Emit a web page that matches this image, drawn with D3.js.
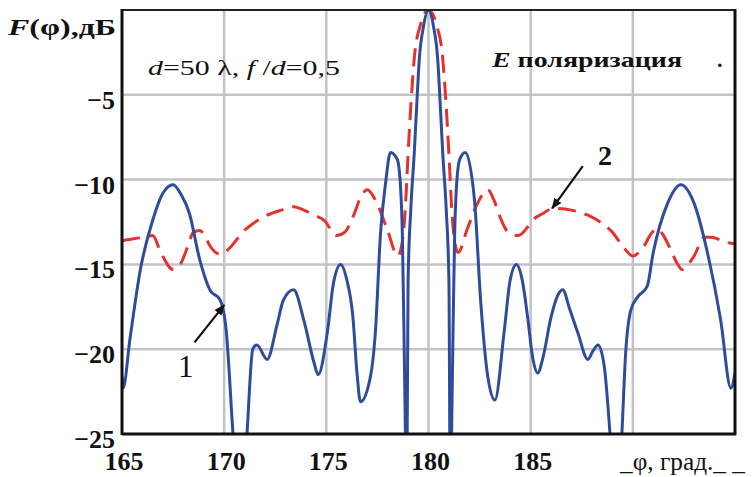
<!DOCTYPE html>
<html>
<head>
<meta charset="utf-8">
<script src="https://cdn.jsdelivr.net/npm/d3@7"></script>
<style>
body { margin: 0; background: #fff; }
svg { display: block; }
text { font-family: "Liberation Serif", "DejaVu Serif", serif; fill: #111; }
</style>
</head>
<body>
<svg width="753" height="477"></svg>
<script>
// curve 1 (solid blue)
var phi1 = [165.0,165.05,165.4,165.9,166.5,167.0,167.5,167.9,168.3,168.8,169.3,169.8,170.1,170.45,170.8,171.1,171.4,171.6,172.1,172.6,172.9,173.4,173.9,174.4,174.6,175.05,175.35,175.7,176.0,176.3,176.5,176.67,177.16,177.4,177.65,177.9,178.14,178.47,178.63,178.72,178.8,178.87,178.93,179.0,179.14,179.3,179.45,179.55,179.75,180.0,
  180.25,180.45,180.55,180.7,180.86,181.0,181.07,181.13,181.2,181.28,181.37,181.53,181.8,182.25,182.55,182.9,183.25,183.7,184.0,184.3,184.6,184.85,185.1,185.35,185.6,186.0,186.3,186.57,186.9,187.3,187.8,188.05,188.3,188.6,188.9,189.15,189.45,189.65,189.9,190.25,190.7,191.0,191.7,192.35,193.0,193.65,194.3,194.8,195.0];
var db1 = [-21.6,-22.3,-19.3,-15.3,-12.4,-10.8,-10.3,-10.9,-12.0,-14.7,-16.5,-17.1,-18.9,-25.3,-30,-25.3,-20.0,-19.75,-20.6,-18.5,-17.1,-16.5,-18.3,-20.8,-21.5,-19.0,-16.1,-15.0,-15.9,-18.1,-21.4,-23.1,-21.6,-19.0,-13.2,-10.2,-8.4,-8.8,-10.4,-13.2,-19.0,-25,-30,-16,-11.6,-8.5,-5,-2.9,-1.0,0,
  -1.0,-2.9,-5.0,-8.5,-11.6,-16,-30,-25,-19.0,-13.2,-10.4,-8.8,-8.4,-11.2,-17.1,-21.6,-23.0,-19.0,-15.9,-15.0,-16.0,-18.1,-20.5,-21.4,-20.5,-18.1,-16.9,-16.5,-17.6,-19.0,-20.6,-20.1,-19.75,-21.0,-25.3,-30,-25.3,-20.2,-17.7,-16.9,-16.3,-14.3,-11.4,-10.3,-11.4,-14.3,-18.3,-22.3,-21.4];

// curve 2 (dashed red)
var phi2 = [165.0,165.5,166.0,166.5,166.9,167.5,167.85,168.2,168.5,168.8,169.0,169.3,169.8,170.3,170.9,171.4,172.1,172.8,173.4,173.9,174.4,174.9,175.5,175.9,176.3,176.7,177.0,177.4,177.97,178.5,178.7,178.87,179.0,179.17,179.3,179.6,180.0,
  180.4,180.7,180.83,181.0,181.13,181.3,181.45,181.9,182.4,182.9,183.2,183.5,183.9,184.4,184.85,185.1,185.6,186.1,187.0,187.8,188.4,189.0,189.55,190.0,190.5,190.95,191.2,191.5,191.8,192.2,192.4,193.0,193.5,193.8,194.6,195.0];
var db2 = [-13.6,-13.5,-13.4,-13.3,-14.3,-15.3,-15.0,-14.0,-13.1,-13.0,-13.2,-13.9,-14.4,-14.0,-13.1,-12.6,-12.1,-11.8,-11.6,-11.8,-12.1,-12.4,-13.3,-13.1,-12.2,-11.0,-10.6,-11.2,-12.9,-14.5,-13.8,-11.6,-8.5,-5.0,-2.9,-0.9,0,
  -0.9,-2.9,-5.0,-8.5,-11.6,-13.8,-14.3,-12.9,-11.4,-10.6,-11.2,-12.2,-13.1,-13.3,-12.8,-12.4,-12.0,-11.7,-11.8,-12.1,-12.5,-13.1,-14.0,-14.5,-14.0,-13.1,-12.9,-13.3,-14.0,-15.0,-15.3,-14.5,-13.4,-13.4,-13.7,-13.8];

var xTicks = [165, 170, 175, 180, 185];
var xGrid = [170, 175, 180, 185, 190];
var yTicks = [-5, -10, -15, -20, -25];
var yGrid = [-5, -10, -15, -20];

var svg = d3.select("svg");
// plot box (not "top": window.top is read-only)
var pl = 122, pt = 10, pr = 735, pb = 434;

var x = d3.scaleLinear().domain([165, 195]).range([pl, pr]);
var y = d3.scaleLinear().domain([-25, 0]).range([pb, pt]);

// clip so the deep nulls stop at the frame
svg.append("clipPath").attr("id", "plot")
  .append("rect").attr("x", pl).attr("y", pt)
  .attr("width", pr - pl).attr("height", pb - pt);

// grid
svg.append("g").selectAll("line").data(xGrid).enter().append("line")
  .attr("x1", d => x(d)).attr("x2", d => x(d))
  .attr("y1", pt).attr("y2", pb)
  .attr("stroke", "#c3c3c7").attr("stroke-width", 2.5);
svg.append("g").selectAll("line").data(yGrid).enter().append("line")
  .attr("x1", pl).attr("x2", pr)
  .attr("y1", d => y(d)).attr("y2", d => y(d))
  .attr("stroke", "#c3c3c7").attr("stroke-width", 2.5);

var line = d3.line().curve(d3.curveMonotoneX)
  .x(d => x(d[0])).y(d => y(d[1]));

var g = svg.append("g").attr("clip-path", "url(#plot)");

g.append("path")
  .datum(d3.zip(phi2, db2))
  .attr("d", line)
  .attr("fill", "none")
  .attr("stroke", "#e4322c")
  .attr("stroke-width", 3)
  .attr("stroke-dasharray", "18,9");

g.append("path")
  .datum(d3.zip(phi1, db1))
  .attr("d", line)
  .attr("fill", "none")
  .attr("stroke", "#2f4c9c")
  .attr("stroke-width", 3)
  .attr("stroke-linejoin", "round");

// frame
svg.append("rect").attr("x", pl).attr("y", pt)
  .attr("width", pr - pl).attr("height", pb - pt)
  .attr("fill", "none").attr("stroke", "#222").attr("stroke-width", 2);
svg.append("line").attr("x1", pl).attr("x2", pl).attr("y1", pt - 1).attr("y2", pb + 1)
  .attr("stroke", "#111").attr("stroke-width", 3);
svg.append("line").attr("x1", pl).attr("x2", pr + 1).attr("y1", pb).attr("y2", pb)
  .attr("stroke", "#111").attr("stroke-width", 3);
svg.append("line").attr("x1", pr).attr("x2", pr).attr("y1", pt - 1).attr("y2", pb + 1)
  .attr("stroke", "#111").attr("stroke-width", 3);

// tick labels
svg.append("g").selectAll("text").data(yTicks).enter().append("text")
  .attr("x", 115).attr("y", d => y(d) + 14)
  .attr("text-anchor", "end")
  .attr("font-size", 26).attr("font-weight", "bold")
  .text(d => "\u2212" + Math.abs(d));
svg.append("g").selectAll("text").data(xTicks).enter().append("text")
  .attr("x", d => x(d) + 2).attr("y", 470)
  .attr("text-anchor", "middle")
  .attr("font-size", 26).attr("font-weight", "bold")
  .text(d => d);

// axis titles
var yl = svg.append("text").attr("x", 8).attr("y", 35)
  .attr("font-size", 24).attr("font-weight", "bold")
  .attr("textLength", 108).attr("lengthAdjust", "spacingAndGlyphs");
yl.append("tspan").attr("font-style", "italic").text("F");
yl.append("tspan").text("(\u03c6),дБ");

svg.append("text").attr("x", 620).attr("y", 470)
  .attr("font-size", 25)
  .attr("textLength", 125).attr("lengthAdjust", "spacingAndGlyphs")
  .text("_\u03c6, град._ _");

// notes
var t1 = svg.append("text").attr("x", 148).attr("y", 75)
  .attr("font-size", 22)
  .attr("textLength", 192).attr("lengthAdjust", "spacingAndGlyphs");
t1.append("tspan").attr("font-style", "italic").text("d");
t1.append("tspan").text("=50 \u03bb, ");
t1.append("tspan").attr("font-style", "italic").text("f");
t1.append("tspan").text(" /");
t1.append("tspan").attr("font-style", "italic").text("d");
t1.append("tspan").text("=0,5");

var t2 = svg.append("text").attr("x", 492).attr("y", 67)
  .attr("font-size", 22).attr("font-weight", "bold")
  .attr("textLength", 190).attr("lengthAdjust", "spacingAndGlyphs");
t2.append("tspan").attr("font-style", "italic").text("E");
t2.append("tspan").text("  поляризация");
svg.append("text").attr("x", 717).attr("y", 67).attr("font-size", 22).attr("font-weight", "bold").text(".");

// curve numbers with arrows
svg.append("defs").append("marker").attr("id", "arr")
  .attr("viewBox", "0 0 10 10").attr("refX", 9).attr("refY", 5)
  .attr("markerWidth", 5).attr("markerHeight", 5).attr("orient", "auto")
  .append("path").attr("d", "M0,1L10,5L0,9z").attr("fill", "#111");

svg.append("line")
  .attr("x1", x(187.55)).attr("y1", y(-9.2))
  .attr("x2", x(186.05)).attr("y2", y(-11.7))
  .attr("stroke", "#111").attr("stroke-width", 2.2).attr("marker-end", "url(#arr)");
svg.append("text").attr("x", 598).attr("y", 165)
  .attr("font-size", 28).attr("font-weight", "bold").text("2");

svg.append("line")
  .attr("x1", x(168.55)).attr("y1", y(-19.6))
  .attr("x2", x(170.0)).attr("y2", y(-17.4))
  .attr("stroke", "#111").attr("stroke-width", 2.2).attr("marker-end", "url(#arr)");
svg.append("text").attr("x", 178).attr("y", 377)
  .attr("font-size", 31).text("1");
</script>
</body>
</html>
